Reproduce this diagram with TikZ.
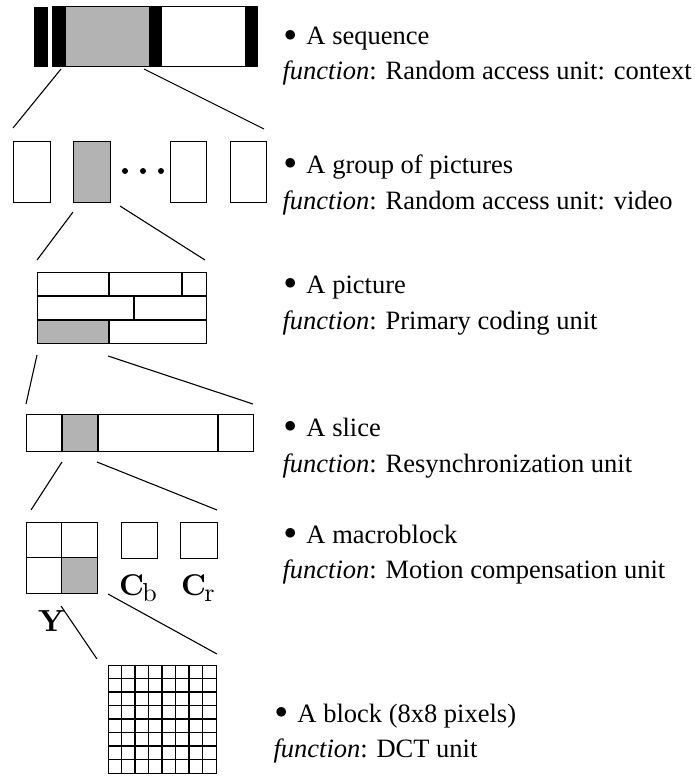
\documentclass[tikz,border=0pt]{standalone}
\usepackage{fontspec}
\setmainfont{Liberation Serif}
\definecolor{unitgray}{RGB}{179,179,179}
\newcommand\lmfont[2]{\fontfamily{lmr}\fontseries{#1}\fontsize{#2}{#2}\selectfont}
\newcommand\chroma[1]{\scalebox{3.0}{\lmfont{bx}{10}C}\kern-1.5pt\raisebox{-6pt}{\scalebox{2.6}{\lmfont{m}{10}#1}}}
\newcommand\itembullet{\raisebox{3.4pt}{$\bullet$}\hspace{10pt}}
\begin{document}
\begin{tikzpicture}[x=1pt,y=-1pt,line width=1.1pt,
  unit/.style={draw,inner sep=0pt,anchor=north west},
  solidbar/.style={fill=black,draw=none,inner sep=0pt,anchor=north west},
  shade/.style={fill=unitgray,draw=none,inner sep=0pt,anchor=north west},
  conn/.style={line width=1.1pt},
  lbl/.style={anchor=base west,inner sep=0pt,font=\fontsize{26.5}{30}\selectfont},
  comp/.style={anchor=base west,inner sep=0pt}]
\useasboundingbox (0,0) rectangle (694,776);

% ---------- sequence ----------
\node[solidbar,minimum width=14pt,minimum height=60pt] (bar0) at (33,6) {};
\node[shade,minimum width=83pt,minimum height=60pt] (seqgop) at (65,6) {};
\node[solidbar,minimum width=13pt,minimum height=60pt] (bar1) at (52,6) {};
\node[solidbar,minimum width=13pt,minimum height=60pt] (bar2) at (148,6) {};
\node[solidbar,minimum width=13pt,minimum height=60pt] (bar3) at (244,6) {};
\node[unit,line width=0.8pt,minimum width=205pt,minimum height=60pt] (seq) at (52,6) {};
\coordinate (s1a) at (61,69);  \coordinate (s1b) at (13,128);
\coordinate (s2a) at (144,69); \coordinate (s2b) at (264,129);
\draw[conn] (s1a) -- (s1b);
\draw[conn] (s2a) -- (s2b);

% ---------- group of pictures ----------
\node[unit,minimum width=37pt,minimum height=61pt] (gop1) at (13,141) {};
\node[unit,fill=unitgray,minimum width=37pt,minimum height=61pt] (gop2) at (73,141) {};
\node[unit,minimum width=36pt,minimum height=61pt] (gop3) at (170,141) {};
\node[unit,minimum width=36pt,minimum height=61pt] (gop4) at (230,141) {};
\fill (125,171) circle (3pt);
\fill (143,171) circle (3pt);
\fill (161,171) circle (3pt);
\coordinate (g1a) at (73,212);  \coordinate (g1b) at (37,260);
\coordinate (g2a) at (120,206); \coordinate (g2b) at (205,260);
\draw[conn] (g1a) -- (g1b);
\draw[conn] (g2a) -- (g2b);

% ---------- picture ----------
\node[shade,minimum width=72pt,minimum height=23pt] (pslice) at (37,320) {};
\node[unit,minimum width=169pt,minimum height=71pt] (pic) at (37,272) {};
\draw (37,296) -- (206,296);
\draw (37,320) -- (206,320);
\draw (109,272) -- (109,296);
\draw (182,272) -- (182,296);
\draw (134,296) -- (134,320);
\draw (109,320) -- (109,343);
\coordinate (p1a) at (37,355);  \coordinate (p1b) at (26,404);
\coordinate (p2a) at (108,356); \coordinate (p2b) at (253,404);
\draw[conn] (p1a) -- (p1b);
\draw[conn] (p2a) -- (p2b);

% ---------- slice ----------
\node[shade,minimum width=36pt,minimum height=37pt] (smb) at (62,414) {};
\node[unit,minimum width=227pt,minimum height=37pt] (slice) at (26,414) {};
\draw (62,414) -- (62,451);
\draw (98,414) -- (98,451);
\draw (218,414) -- (218,451);
\coordinate (l1a) at (62,462);  \coordinate (l1b) at (31,510);
\coordinate (l2a) at (97,462);  \coordinate (l2b) at (217,510);
\draw[conn] (l1a) -- (l1b);
\draw[conn] (l2a) -- (l2b);

% ---------- macroblock ----------
\node[shade,minimum width=35.5pt,minimum height=35.5pt] (yblk) at (61.5,557.5) {};
\node[unit,minimum width=71pt,minimum height=71pt] (ylum) at (26,522) {};
\draw (61.5,522) -- (61.5,593);
\draw (26,557.5) -- (97,557.5);
\node[unit,minimum width=36pt,minimum height=36pt] (cb) at (121,522) {};
\node[unit,minimum width=37pt,minimum height=36pt] (cr) at (180,522) {};
\node[comp] (cblbl) at (118.5,595) {\chroma{b}};
\node[comp] (crlbl) at (180.5,595) {\chroma{r}};
\node[comp] (ylbl) at (37.5,631) {\scalebox{3.05}{\lmfont{bx}{10}Y}};
\coordinate (m1a) at (61,606);  \coordinate (m1b) at (97,659);
\coordinate (m2a) at (108,594); \coordinate (m2b) at (217,654);
\draw[conn] (m1a) -- (m1b);
\draw[conn] (m2a) -- (m2b);

% ---------- block ----------
\node[unit,minimum width=108pt,minimum height=108pt] (blk) at (108,665) {};
\foreach \i in {1,...,7} {
  \draw (108+13.5*\i,665) -- (108+13.5*\i,773);
  \draw (108,665+13.5*\i) -- (216,665+13.5*\i);
}

% ---------- texts ----------
\node[lbl] (t1a) at (283.5,45) {\itembullet A sequence};
\node[lbl] (t1b) at (282,80) {\textit{function}: Random access unit: context};
\node[lbl] (t2a) at (283.5,173) {\itembullet A group of pictures};
\node[lbl] (t2b) at (282,209) {\textit{function}: Random access unit: video};
\node[lbl] (t3a) at (283.5,293) {\itembullet A picture};
\node[lbl] (t3b) at (282,329) {\textit{function}: Primary coding unit};
\node[lbl] (t4a) at (283.5,436) {\itembullet A slice};
\node[lbl] (t4b) at (282,472) {\textit{function}: Resynchronization unit};
\node[lbl] (t5a) at (283.5,543) {\itembullet A macroblock};
\node[lbl] (t5b) at (282,578) {\textit{function}: Motion compensation unit};
\node[lbl] (t6a) at (274.5,722) {\itembullet A block (8x8 pixels)};
\node[lbl] (t6b) at (273,757) {\textit{function}: DCT unit};
\end{tikzpicture}
\end{document}
